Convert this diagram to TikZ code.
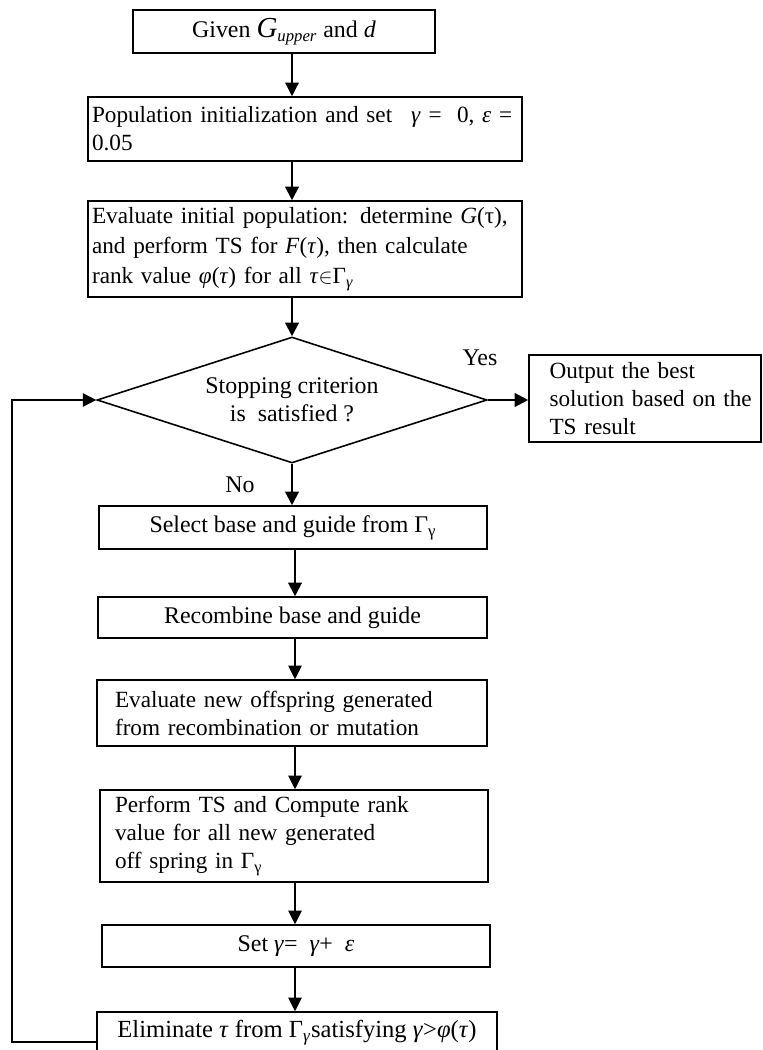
\documentclass[tikz,border=0pt]{standalone}
\usepackage{amsmath,amssymb}
\usepackage{fontspec}
\setmainfont{Liberation Serif}
\usepackage{tikz}
\usetikzlibrary{shapes.geometric,arrows.meta,positioning,calc}

\begin{document}
\begin{tikzpicture}[
        x=0.02cm, y=-0.02cm,
        every node/.style={font=\fontsize{13.6}{16}\selectfont},
        block/.style={rectangle, draw, line width=0.9pt, inner sep=0pt},
        lblock/.style={block, inner ysep=0pt, font=\fontsize{13.2}{16}\selectfont},
        decision/.style={diamond, draw, line width=0.9pt, inner sep=0pt, aspect=3.1, align=center, minimum width=7.8cm, minimum height=2.52cm},
        arrow/.style={-{Triangle[length=0.27cm,width=0.27cm]}, line width=0.6pt},
        thickarrow/.style={arrow, line width=1.2pt}
    ]
        \useasboundingbox (0,0) rectangle (763,1050);

        % Blocks
        \node[block, minimum width=6.04cm, minimum height=0.86cm] (given) at (284,31.5) {Given {\fontsize{16.5}{16}\selectfont\textit{G}}\textsubscript{\textit{upper}} and \textit{d}};
        \node[lblock, text width=8.52cm, inner xsep=0.08cm, minimum height=1.28cm] (init) at (305,129) {\mbox{Population initialization and set\hspace{0.38cm}\textit{γ} = \ 0, \textit{ε} =}\\0.05};
        \node[lblock, text width=8.52cm, inner xsep=0.08cm, minimum height=1.92cm, font=\fontsize{13.2}{17.2}\selectfont] (evalpop) at (305,249) {\mbox{Evaluate initial population: determine \textit{G}(τ),}\\\makebox[8.2cm][s]{and perform TS for \textit{F}(\textit{τ}), then calculate}\\\mbox{rank value \textit{φ}(\textit{τ}) for all \textit{τ}$\in$Γ\textsubscript{\textit{γ}}}};
        \node[decision] (dia) at (292,400) {Stopping criterion\\is\ \ satisfied ?};
        \node[lblock, text width=4.3cm, inner xsep=0.17cm, minimum height=1.74cm] (output) at (645,398.5) {\hspace*{0.24cm}\mbox{Output the best}\\\hspace*{0.24cm}\mbox{solution based on the}\\\hspace*{0.24cm}\mbox{TS result}};
        \node[block, minimum width=7.76cm, minimum height=0.86cm] (select) at (293,527.5) {Select base and guide from Γ\textsubscript{γ}};
        \node[block, minimum width=7.78cm, minimum height=0.82cm] (recomb) at (292.5,617.5) {Recombine base and guide};
        \node[lblock, text width=7.08cm, inner xsep=0.36cm, minimum height=1.32cm] (evalnew) at (292,713) {\mbox{Evaluate new offspring generated}\\\mbox{from recombination or mutation}};
        \node[lblock, text width=7.16cm, inner xsep=0.3cm, minimum height=1.84cm] (perform) at (294,836) {\mbox{Perform TS and Compute rank}\\\mbox{value for all new generated}\\\mbox{off spring in Γ\textsubscript{γ}}};
        \node[block, minimum width=7.76cm, minimum height=0.84cm] (setg) at (296,946) {Set \textit{γ}=\ \ \textit{γ}+\ \ \textit{ε}};
        \node[block, minimum width=8.0cm, minimum height=0.84cm, font=\fontsize{14}{16}\selectfont] (elim) at (297,1033) {Eliminate \textit{τ} from Γ\textsubscript{\textit{γ}}satisfying \textit{γ}>\textit{φ}(\textit{τ})};

        % Labels
        \node (yes) at (480,358) {Yes};
        \node (no) at (240,485) {No};

        % Arrows
        \coordinate (axis) at (295,0);
        \coordinate (back) at (12,0);
        \draw[arrow, line width=0.8pt] (given.south -| dia.north) -- (init.north -| dia.north);
        \draw[thickarrow] (init.south -| dia.north) -- (evalpop.north -| dia.north);
        \draw[thickarrow] (evalpop.south -| dia.north) -- (dia.north);
        \draw[thickarrow] (dia.east) -- (dia.east -| output.west);
        \draw[thickarrow] (dia.south) -- (select.north -| dia.south);
        \draw[thickarrow] (select.south -| axis) -- (recomb.north -| axis);
        \draw[arrow] (recomb.south -| axis) -- (evalnew.north -| axis);
        \draw[arrow] (evalnew.south -| axis) -- (perform.north -| axis);
        \draw[arrow] (perform.south -| axis) -- (setg.north -| axis);
        \draw[arrow] (setg.south -| axis) -- (elim.north -| axis);
        \draw[arrow, line width=0.8pt] ([yshift=-0.18cm]elim.west) -| (back |- dia.west) -- (dia.west);

    \end{tikzpicture}
\end{document}
